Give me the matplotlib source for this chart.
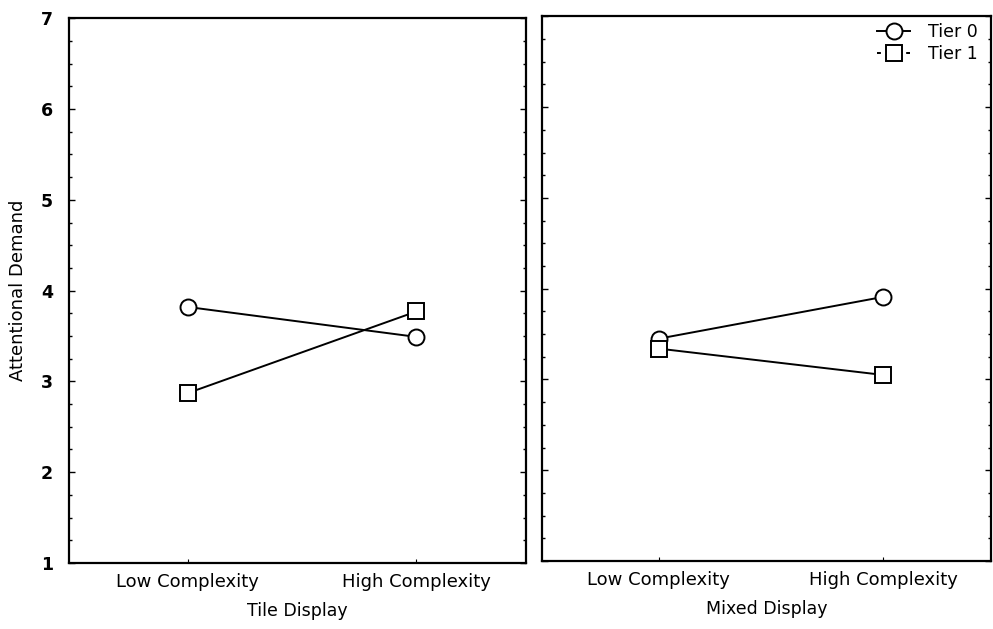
import matplotlib
matplotlib.use("Agg")
import matplotlib.pyplot as plt
from matplotlib.lines import Line2D
from matplotlib.ticker import MultipleLocator

plt.rcParams['font.family'] = ['DejaVu Sans']

categories = ["Low Complexity", "High Complexity"]
panels = ["Tile Display", "Mixed Display"]
tier0_tile = [3.82, 3.49]
tier1_tile = [2.87, 3.77]
tier0_mixed = [3.45, 3.91]
tier1_mixed = [3.34, 3.05]
yticks = [1, 2, 3, 4, 5, 6, 7]

fig = plt.figure(figsize=(9.93, 6.29), dpi=100)
ax1 = fig.add_axes([0.069, 0.105, 0.461, 0.866])
ax2 = fig.add_axes([0.546, 0.108, 0.452, 0.866])

data = [(ax1, tier0_tile, tier1_tile, panels[0]), (ax2, tier0_mixed, tier1_mixed, panels[1])]
x = list(range(len(categories)))
for ax, t0, t1, lab in data:
    ax.plot(x, t0, color='black', lw=1.4, marker='o', ms=11.5, mfc='white', mec='black', mew=1.4, zorder=3)
    ax.plot(x, t1, color='black', lw=1.4, marker='s', ms=12, mfc='white', mec='black', mew=1.4, zorder=3)
    ax.set_xlim(-0.52, 1.48)
    ax.set_ylim(1, 7)
    ax.set_xticks(x)
    ax.set_xticklabels(categories, fontsize=13)
    ax.set_xlabel(lab, fontsize=12.5, labelpad=8)
    ax.yaxis.set_minor_locator(MultipleLocator(0.25))
    ax.tick_params(axis='y', which='both', direction='in', left=True, right=True, length=4, width=1)
    ax.tick_params(axis='y', which='minor', length=2.5)
    ax.tick_params(axis='x', direction='in', length=3, pad=7)
    for s in ax.spines.values():
        s.set_linewidth(1.6)

ax1.set_yticks(yticks)
ax1.set_yticklabels([str(v) for v in yticks], fontsize=12.5, fontweight='bold')
ax1.tick_params(axis='y', pad=11)
ax1.set_ylabel("Attentional Demand", fontsize=13, labelpad=10)
ax2.set_yticks(yticks)
ax2.set_yticklabels([])

handles = [
    Line2D([], [], color='black', lw=1.4, marker='o', ms=11.5, mfc='white', mec='black', mew=1.4),
    Line2D([], [], color='black', lw=1.4, ls=(0, (2, 3)), marker='s', ms=12, mfc='white', mec='black', mew=1.4),
]
ax2.legend(handles, ["Tier 0", "Tier 1"], loc='upper right', frameon=False, fontsize=12.5,
           handlelength=1.9, handletextpad=1.0, labelspacing=0.2, borderaxespad=0.0,
           bbox_to_anchor=(0.985, 1.0))

fig.savefig("out.png", dpi=100, facecolor='white')
